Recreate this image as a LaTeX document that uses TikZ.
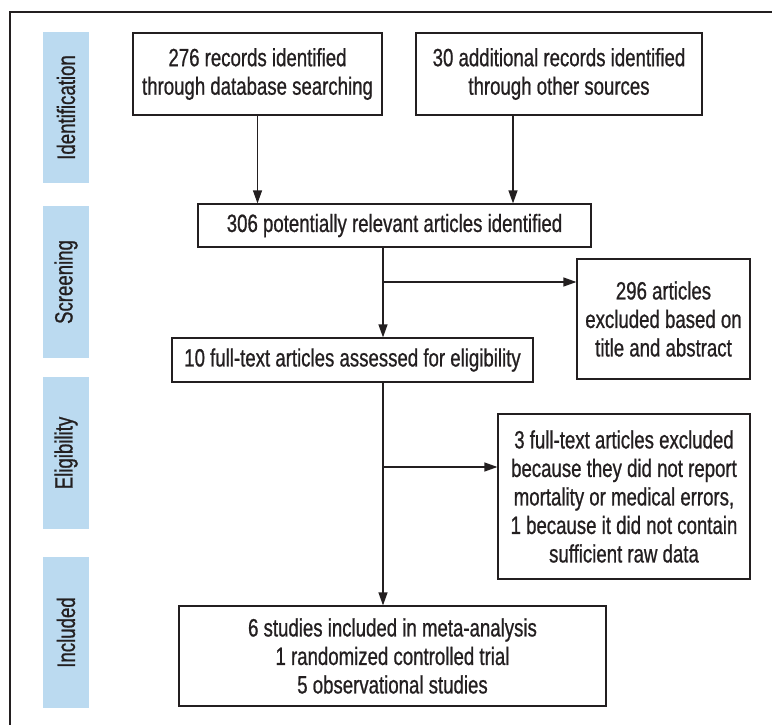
\documentclass[tikz,border=0pt]{standalone}
\usepackage{fontspec}
\setmainfont{Liberation Sans}[FakeStretch=0.745, FakeBold=0.8]
\usetikzlibrary{arrows.meta, calc}

\definecolor{bandblue}{RGB}{187,218,240}
\definecolor{ink}{RGB}{35,31,32}

\begin{document}
\begin{tikzpicture}[
    x=1pt, y=-1pt,
    font=\fontsize{25}{28.5}\selectfont,
    box/.style={draw=ink, line width=1.2pt, text=ink, align=center, inner sep=0pt},
    band/.style={fill=bandblue, text=ink, rotate=90, minimum height=46pt,
                 inner sep=0pt},
    arr/.style={-{Triangle[length=13pt, width=9pt]}, line width=1.2pt, draw=ink}
]
\useasboundingbox (0,0) rectangle (772,725);
% outer frame (right and bottom edges run off the page)
\draw[ink, line width=1.2pt] (10,725) -- (10,12) -- (772,12);

% stage bands on the left
\node[band, minimum width=151pt] (sIdent) at (66,107.5) {Identification};
\node[band, minimum width=152pt] (sScreen) at (66,282) {Screening};
\node[band, minimum width=152pt] (sElig) at (66,453) {Eligibility};
\node[band, minimum width=151pt] (sIncl) at (66,632.5) {Included};

% boxes
\node[box, minimum width=249pt, minimum height=82pt] (recDb) at (257.5,74)
  {276 records identified\\through database searching};
\node[box, minimum width=286pt, minimum height=82pt] (recOther) at (559,74)
  {30 additional records identified\\through other sources};
\node[box, minimum width=393pt, minimum height=43pt] (potArt) at (394.5,225.5)
  {306 potentially relevant articles identified};
\node[box, minimum width=361pt, minimum height=44pt] (fullArt) at (352.5,360)
  {10 full-text articles assessed for eligibility};
\node[box, minimum width=173pt, minimum height=120pt] (exclTitle) at (663.5,319)
  {296 articles\\excluded based on\\title and abstract};
\node[box, minimum width=252pt, minimum height=165pt] (exclFull) at (624,496.5)
  {3 full-text articles excluded\\because they did not report\\mortality or medical errors,\\1 because it did not contain\\sufficient raw data};
\node[box, minimum width=427pt, minimum height=100pt] (inclStud) at (392.5,656)
  {6 studies included in meta-analysis\\1 randomized controlled trial\\5 observational studies};

% branch points on the main line
\coordinate (inR) at (513,0);
\coordinate (brA) at (383,282);
\coordinate (brB) at (383,467);

\draw[arr] (recDb.south) -- (recDb.south |- potArt.north);
\draw[arr] (inR |- recOther.south) -- (inR |- potArt.north);
\draw[arr] (brA |- potArt.south) -- (brA |- fullArt.north);
\draw[arr] (brA) -- (brA -| exclTitle.west);
\draw[arr] (brA |- fullArt.south) -- (brA |- inclStud.north);
\draw[arr] (brB) -- (brB -| exclFull.west);
\end{tikzpicture}
\end{document}
